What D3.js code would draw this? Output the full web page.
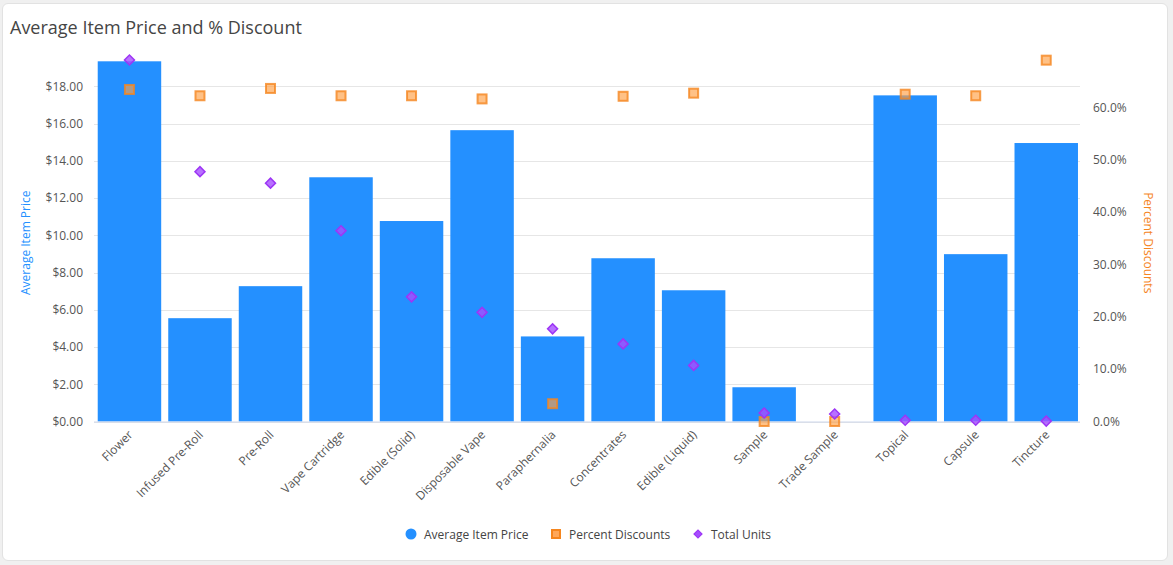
<!DOCTYPE html>
<html>
<head>
<meta charset="utf-8">
<script src="https://cdn.jsdelivr.net/npm/d3@7"></script>
<style>
  html, body { margin: 0; padding: 0; background: #f0f0f0; }
  body { width: 1173px; height: 565px; overflow: hidden; font-family: "Open Sans", sans-serif; }
  #card { position: absolute; left: 2px; top: 3px; width: 1166px; height: 558px; background: #fff; border-radius: 6px; border: 1px solid #e2e2e2; box-sizing: border-box; }
  svg { position: absolute; left: 0; top: 0; }
</style>
</head>
<body>
<div id="card"></div>
<div id="chart"></div>
<script>
  const categories = ['Flower', 'Infused Pre-Roll', 'Pre-Roll', 'Vape Cartridge', 'Edible (Solid)', 'Disposable Vape',
    'Paraphernalia', 'Concentrates', 'Edible (Liquid)', 'Sample', 'Trade Sample', 'Topical', 'Capsule', 'Tincture'];
  const avgPrice = [19.35, 5.55, 7.27, 13.12, 10.77, 15.65, 4.57, 8.77, 7.05, 1.84, 0, 17.52, 8.99, 14.96];
  const pctDiscount = [63.4, 62.2, 63.6, 62.2, 62.2, 61.6, 3.4, 62.1, 62.7, 0, 0, 62.5, 62.2, 69.0];
  const totalUnits = [36100, 24950, 23800, 19050, 12450, 10900, 9250, 7750, 5600, 850, 750, 120, 120, 40];
  const priceTicks = [0, 2, 4, 6, 8, 10, 12, 14, 16, 18];
  const pctTicks = [0, 10, 20, 30, 40, 50, 60];

  const width = 1173, height = 565;
  const plotLeft = 94, plotRight = 1080, plotBottom = 421.5, plotTop = 60;

  const blue = '#2490ff', orange = '#f5861f', purple = '#9d36f5';

  const svg = d3.select('#chart').append('svg')
    .attr('width', width)
    .attr('height', height)
    .style('font-family', '"Open Sans", sans-serif');

  const x = d3.scaleBand()
    .domain(categories)
    .range([plotLeft + 0.2, plotRight + 1.5])
    .paddingInner(0.1)
    .paddingOuter(0.05);

  const yPrice = d3.scaleLinear().domain([0, 19.42]).range([plotBottom, plotTop]);
  const yPct = d3.scaleLinear().domain([0, 69.03]).range([plotBottom, plotTop]);
  const yUnits = d3.scaleLinear().domain([0, 36100]).range([plotBottom, plotTop]);

  // title
  svg.append('text')
    .attr('x', 10).attr('y', 34)
    .attr('fill', '#454545')
    .style('font-size', '18px')
    .text('Average Item Price and % Discount');

  // grid
  svg.append('g')
    .selectAll('line')
    .data(priceTicks)
    .join('line')
      .attr('x1', plotLeft).attr('x2', plotRight)
      .attr('y1', d => Math.round(yPrice(d)) + 0.5)
      .attr('y2', d => Math.round(yPrice(d)) + 0.5)
      .attr('stroke', '#e6e6e6');

  // left axis
  const leftAxis = svg.append('g')
    .attr('transform', `translate(${plotLeft - 8},0)`)
    .call(d3.axisLeft(yPrice).tickValues(priceTicks).tickSize(0).tickFormat(d => '$' + d.toFixed(2)));
  leftAxis.select('.domain').remove();

  // right axis
  const rightAxis = svg.append('g')
    .attr('transform', `translate(${plotRight + 10},0)`)
    .call(d3.axisRight(yPct).tickValues(pctTicks).tickSize(0).tickFormat(d => d.toFixed(1) + '%'));
  rightAxis.select('.domain').remove();

  svg.selectAll('.tick text')
    .attr('fill', '#555')
    .style('font-size', '12px')
    .style('font-family', '"Open Sans", sans-serif');

  // axis titles
  svg.append('text')
    .attr('transform', `translate(30,${(plotTop + plotBottom) / 2 + 2}) rotate(-90)`)
    .attr('text-anchor', 'middle')
    .attr('fill', blue)
    .style('font-size', '12px')
    .text('Average Item Price');

  svg.append('text')
    .attr('transform', `translate(1144,${(plotTop + plotBottom) / 2 + 2}) rotate(90)`)
    .attr('text-anchor', 'middle')
    .attr('fill', orange)
    .style('font-size', '12px')
    .text('Percent Discounts');

  // bars
  svg.append('g')
    .selectAll('rect')
    .data(categories)
    .join('rect')
      .attr('x', d => x(d))
      .attr('width', x.bandwidth())
      .attr('y', (d, i) => yPrice(avgPrice[i]))
      .attr('height', (d, i) => plotBottom - yPrice(avgPrice[i]))
      .attr('fill', blue);

  // x baseline
  svg.append('line')
    .attr('x1', plotLeft).attr('x2', plotRight)
    .attr('y1', plotBottom + 0.5).attr('y2', plotBottom + 0.5)
    .attr('stroke', '#ccd6eb');

  // x labels
  svg.append('g')
    .selectAll('text')
    .data(categories)
    .join('text')
      .attr('transform', d => `translate(${x(d) + x.bandwidth() / 2 + 4},${plotBottom + 14}) rotate(-45)`)
      .attr('text-anchor', 'end')
      .attr('fill', '#555')
      .style('font-size', '12px')
      .text(d => d);

  // percent discount squares
  svg.append('g')
    .selectAll('rect')
    .data(categories)
    .join('rect')
      .attr('x', d => x(d) + x.bandwidth() / 2 - 4.5)
      .attr('y', (d, i) => yPct(pctDiscount[i]) - 4.5)
      .attr('width', 9).attr('height', 9)
      .attr('fill', '#ff9f45')
      .attr('fill-opacity', 0.65)
      .attr('stroke', orange)
      .attr('stroke-opacity', 0.8)
      .attr('stroke-width', 2);

  // total units diamonds
  const diamond = d3.symbol().type(d3.symbolSquare).size(50);
  svg.append('g')
    .selectAll('path')
    .data(categories)
    .join('path')
      .attr('d', diamond)
      .attr('transform', (d, i) => `translate(${x(d) + x.bandwidth() / 2},${yUnits(totalUnits[i])}) rotate(45)`)
      .attr('fill', '#a64dff')
      .attr('fill-opacity', 0.8)
      .attr('stroke', purple)
      .attr('stroke-width', 1.5);

  // legend
  const legend = svg.append('g').attr('transform', 'translate(0,534)');
  legend.append('circle').attr('cx', 411).attr('cy', 0).attr('r', 5.5).attr('fill', blue);
  legend.append('text').attr('x', 424).attr('y', 4.5).attr('fill', '#444').style('font-size', '12px').text('Average Item Price');
  legend.append('rect').attr('x', 552).attr('y', -4).attr('width', 8).attr('height', 8)
    .attr('fill', '#ffa85a').attr('stroke', orange).attr('stroke-width', 2);
  legend.append('text').attr('x', 569).attr('y', 4.5).attr('fill', '#444').style('font-size', '12px').text('Percent Discounts');
  legend.append('path').attr('d', diamond).attr('transform', 'translate(698,0) rotate(45) scale(0.8)')
    .attr('fill', '#a64dff').attr('stroke', purple).attr('stroke-width', 1.5);
  legend.append('text').attr('x', 711).attr('y', 4.5).attr('fill', '#444').style('font-size', '12px').text('Total Units');
</script>
</body>
</html>
